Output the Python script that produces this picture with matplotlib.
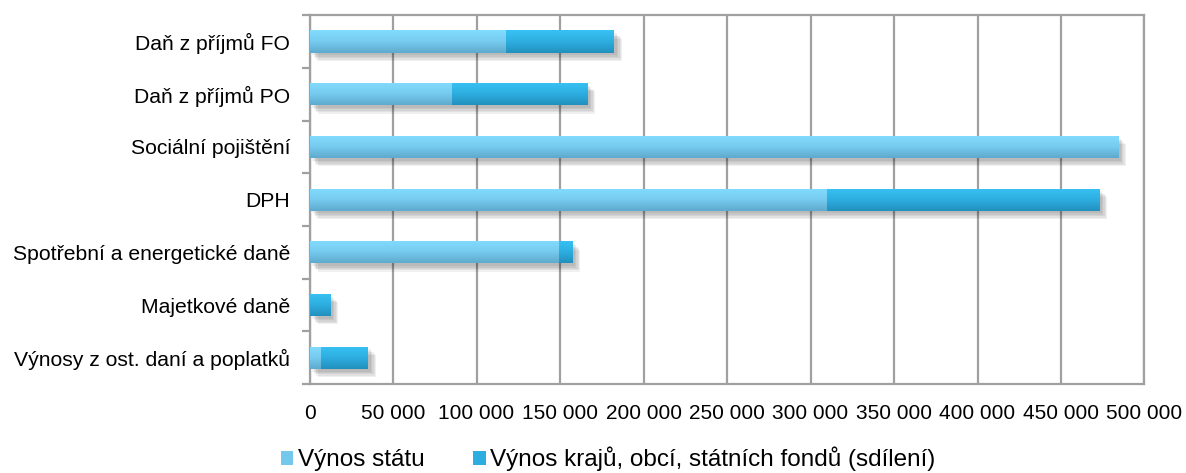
import numpy as np
import matplotlib
matplotlib.use("Agg")
import matplotlib.pyplot as plt
from matplotlib.colors import LinearSegmentedColormap
from matplotlib.patches import Patch
import matplotlib.patheffects as pe
from matplotlib.ticker import FuncFormatter, MultipleLocator

categories = ["Daň z příjmů FO", "Daň z příjmů PO", "Sociální pojištění", "DPH",
              "Spotřební a energetické daně", "Majetkové daně",
              "Výnosy z ost. daní a poplatků"]
vynos_statu = [117700, 85300, 484000, 309900, 149400, 0, 6900]
vynos_sdileni = [64600, 80900, 0, 162900, 7800, 12300, 28100]
series_names = ["Výnos státu", "Výnos krajů, obcí, státních fondů (sdílení)"]

plt.rcParams['font.family'] = ['Liberation Sans', 'DejaVu Sans']

fig = plt.figure(figsize=(11.86, 4.73), dpi=100)
ax = fig.add_axes([0.261, 0.188, 0.704, 0.780])

n = len(categories)
ypos = np.arange(n)[::-1]
h = 0.42

grad1 = LinearSegmentedColormap.from_list("g1", ["#82DCFF", "#76CBEE", "#5FAACF"])
grad2 = LinearSegmentedColormap.from_list("g2", ["#38C2F4", "#2EAEE0", "#2290BE"])
gvals = np.linspace(0, 1, 64).reshape(-1, 1)

shadow = [pe.SimplePatchShadow(offset=(o, -o), shadow_rgbFace='k', alpha=0.06) for o in (2, 3, 4, 5, 6)] + [pe.Normal()]

b1 = ax.barh(ypos, vynos_statu, height=h, color="#7AD2F6", zorder=2)
b2 = ax.barh(ypos, vynos_sdileni, left=vynos_statu, height=h, color="#2EB0E2", zorder=2)

for bars, cm in ((b1, grad1), (b2, grad2)):
    for p in bars:
        w = p.get_width()
        if w <= 0:
            p.set_visible(False)
            continue
        p.set_path_effects(shadow)
        x0, y0, hh = p.get_x(), p.get_y(), p.get_height()
        im = ax.imshow(gvals, cmap=cm, extent=(x0, x0 + w, y0, y0 + hh), origin='upper',
                       aspect='auto', zorder=3, interpolation='bilinear')
        im.set_clip_path(p)

ax.set_xlim(0, 500000)
ax.set_ylim(-0.5, n - 0.5)
ax.xaxis.set_major_locator(MultipleLocator(50000))
ax.xaxis.set_major_formatter(FuncFormatter(lambda v, _: f"{int(v):,}".replace(",", " ")))
ax.set_yticks(ypos)
ax.set_yticklabels(categories)
ax.set_yticks(np.arange(n + 1) - 0.5, minor=True)

ax.grid(axis='x', color='#A0A0A0', linewidth=1.6, zorder=0)
ax.set_axisbelow(True)
for s in ax.spines.values():
    s.set_color('#A0A0A0')
    s.set_linewidth(1.6)

ax.tick_params(axis='y', which='major', length=0, pad=14, labelsize=15.2, colors='#000000')
ax.tick_params(axis='y', which='minor', length=6, width=1.6, color='#A0A0A0')
ax.tick_params(axis='x', length=0, pad=14, labelsize=15)

handles = [Patch(facecolor="#74C8EC", edgecolor='none'), Patch(facecolor="#2EAEE0", edgecolor='none')]
fig.legend(handles, series_names, loc='lower center', bbox_to_anchor=(0.513, -0.043), ncol=2,
           frameon=False, fontsize=17.5, handlelength=0.5, handleheight=0.5,
           handletextpad=0.2, columnspacing=2.0)

fig.savefig("out.png", dpi=100)
